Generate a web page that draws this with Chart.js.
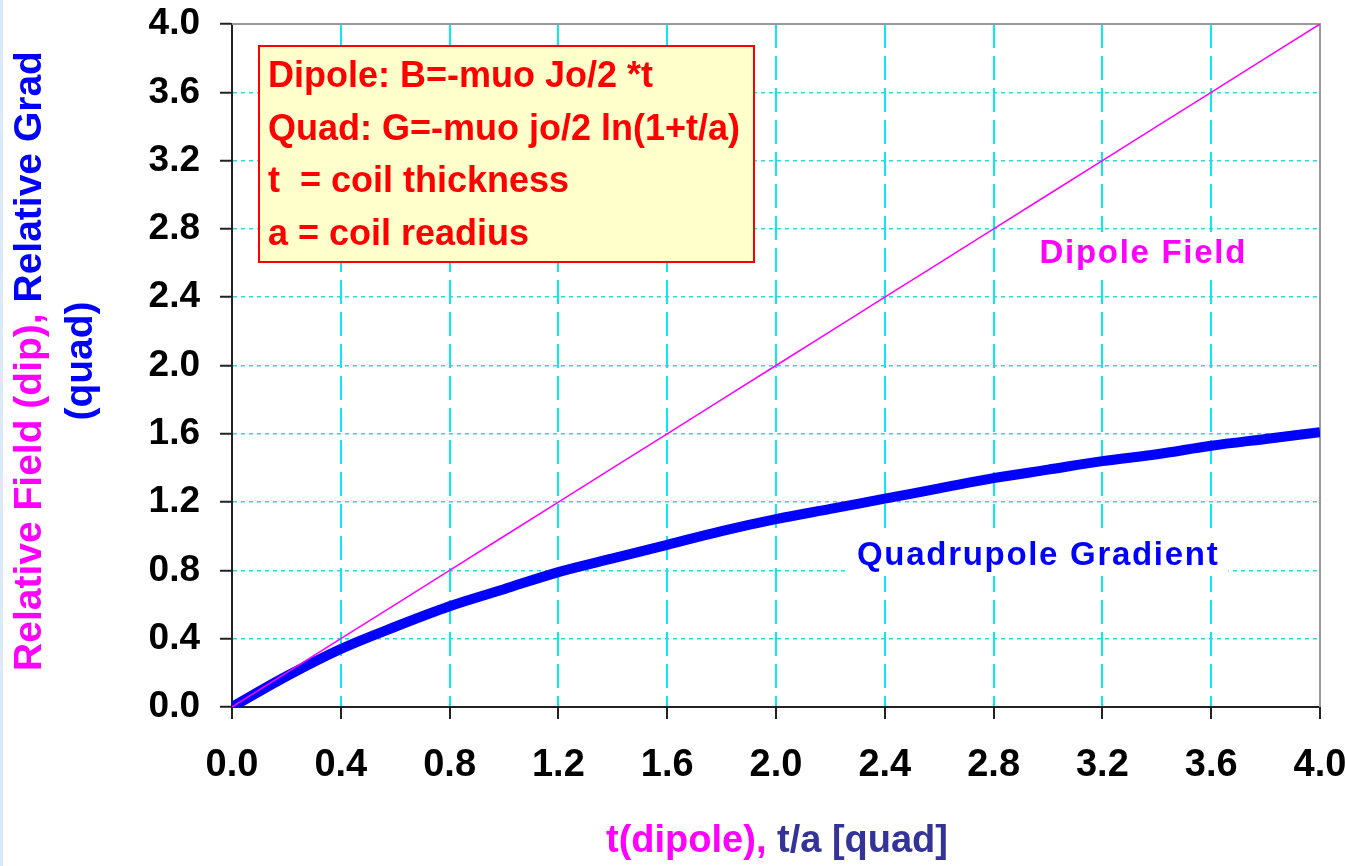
<!DOCTYPE html>
<html>
<head>
<meta charset="utf-8">
<script src="https://cdn.jsdelivr.net/npm/chart.js@4/dist/chart.umd.min.js"></script>
<style>
    html, body { margin: 0; padding: 0; background: #ffffff; }
    #wrap { position: relative; width: 1345px; height: 866px; }
</style>
</head>
<body>
<div id="wrap"><canvas id="fieldChart"></canvas></div>
<script>
// Values
const tValues = [0.0, 0.2, 0.4, 0.6, 0.8, 1.0, 1.2, 1.4, 1.6, 1.8, 2.0, 2.2, 2.4, 2.6, 2.8, 3.0, 3.2, 3.4, 3.6, 3.8, 4.0];
const dipoleField = [0.0, 0.2, 0.4, 0.6, 0.8, 1.0, 1.2, 1.4, 1.6, 1.8, 2.0, 2.2, 2.4, 2.6, 2.8, 3.0, 3.2, 3.4, 3.6, 3.8, 4.0];
const quadGradient = [0.0, 0.18, 0.34, 0.47, 0.59, 0.69, 0.79, 0.87, 0.95, 1.03, 1.10, 1.16, 1.22, 1.28, 1.34, 1.39, 1.44, 1.48, 1.53, 1.57, 1.61];
const xTicks = [0.0, 0.4, 0.8, 1.2, 1.6, 2.0, 2.4, 2.8, 3.2, 3.6, 4.0];
const yTicks = [0.0, 0.4, 0.8, 1.2, 1.6, 2.0, 2.4, 2.8, 3.2, 3.6, 4.0];
const boxLines = ['Dipole: B=-muo Jo/2 *t', 'Quad: G=-muo jo/2 ln(1+t/a)', 't  = coil thickness', 'a = coil readius'];

const FONT = '"Liberation Sans", Arial, sans-serif';
const MAGENTA = '#ff00ff';
const BLUE = '#0000ff';

function toPoints(xs, ys) {
    return xs.map((x, i) => ({ x: x, y: ys[i] }));
}

// keep the plot area where the reference has it (no extra room for label overhang)
function noOverhang(scale) {
    scale.paddingTop = 0;
    scale.paddingBottom = 0;
    scale.paddingLeft = 0;
    scale.paddingRight = 0;
}

// Extra drawing: frame, annotation box, curve labels, axis titles
const decorPlugin = {
    id: 'decor',
    beforeDatasetsDraw(chart) {
        const { ctx, chartArea: a } = chart;
        ctx.save();
        ctx.strokeStyle = '#999999';
        ctx.lineWidth = 2;
        ctx.beginPath();
        ctx.moveTo(a.left, a.top);
        ctx.lineTo(a.right, a.top);
        ctx.lineTo(a.right, a.bottom);
        ctx.stroke();
        ctx.restore();
    },
    afterDraw(chart) {
        const { ctx } = chart;
        ctx.save();

        // faint edge on the left of the picture
        ctx.fillStyle = '#dceaf8';
        ctx.fillRect(0, 0, 3, 866);

        // formula box
        ctx.fillStyle = '#ffffcc';
        ctx.fillRect(259, 46, 495, 216);
        ctx.strokeStyle = '#ff0000';
        ctx.lineWidth = 2;
        ctx.strokeRect(259, 46, 495, 216);
        ctx.fillStyle = '#ff0000';
        ctx.font = 'bold 36px ' + FONT;
        ctx.textBaseline = 'alphabetic';
        ctx.textAlign = 'left';
        boxLines.forEach((line, i) => {
            ctx.fillText(line, 268, 87 + i * 52.7);
        });

        // curve labels on white patches
        ctx.font = 'bold 33px ' + FONT;
        ctx.letterSpacing = '1.7px';
        let w = ctx.measureText('Dipole Field').width;
        ctx.fillStyle = '#ffffff';
        ctx.fillRect(1247 - w - 8, 232, w + 16, 40);
        ctx.fillStyle = MAGENTA;
        ctx.fillText('Dipole Field', 1247 - w, 263);
        w = ctx.measureText('Quadrupole Gradient').width;
        ctx.fillStyle = '#ffffff';
        ctx.fillRect(848, 534, w + 18, 42);
        ctx.fillStyle = BLUE;
        ctx.fillText('Quadrupole Gradient', 857, 565);
        ctx.letterSpacing = '0px';

        // x axis title, two colours
        ctx.font = 'bold 38px ' + FONT;
        const xa = 't(dipole), ';
        const xb = 't/a [quad]';
        const wa = ctx.measureText(xa).width;
        const wb = ctx.measureText(xb).width;
        let x0 = 777 - (wa + wb) / 2;
        ctx.fillStyle = MAGENTA;
        ctx.fillText(xa, x0, 852);
        ctx.fillStyle = '#333399';
        ctx.fillText(xb, x0 + wa, 852);

        // y axis title, rotated, two lines
        ctx.font = 'bold 39px ' + FONT;
        const ya = 'Relative Field (dip), ';
        const yb = 'Relative Grad';
        const yaW = ctx.measureText(ya).width;
        const ybW = ctx.measureText(yb).width;
        ctx.save();
        ctx.translate(41, 361);
        ctx.rotate(-Math.PI / 2);
        x0 = -(yaW + ybW) / 2;
        ctx.fillStyle = MAGENTA;
        ctx.fillText(ya, x0, 0);
        ctx.fillStyle = BLUE;
        ctx.fillText(yb, x0 + yaW, 0);
        ctx.restore();
        ctx.save();
        ctx.translate(92, 361);
        ctx.rotate(-Math.PI / 2);
        ctx.textAlign = 'center';
        ctx.fillStyle = BLUE;
        ctx.fillText('(quad)', 0, 0);
        ctx.restore();

        ctx.restore();
    }
};

document.addEventListener('DOMContentLoaded', function() {
    const ctx = document.getElementById('fieldChart').getContext('2d');

    new Chart(ctx, {
        type: 'line',
        data: {
            datasets: [{
                label: 'Dipole Field',
                data: toPoints(tValues, dipoleField),
                borderColor: MAGENTA,
                borderWidth: 1.5,
                pointRadius: 0,
                tension: 0
            }, {
                label: 'Quadrupole Gradient',
                data: toPoints(tValues, quadGradient),
                borderColor: BLUE,
                borderWidth: 10,
                pointRadius: 0,
                cubicInterpolationMode: 'monotone'
            }]
        },
        options: {
            responsive: true,
            maintainAspectRatio: false,
            animation: false,
            layout: { padding: { top: 24, right: 25, left: 0, bottom: 0 } },
            plugins: {
                legend: { display: false },
                tooltip: { enabled: false }
            },
            scales: {
                x: {
                    type: 'linear',
                    min: 0,
                    max: 4,
                    afterFit: function(scale) { scale.height = 159; noOverhang(scale); },
                    afterBuildTicks: function(scale) {
                        scale.ticks = xTicks.map(v => ({ value: v }));
                    },
                    grid: {
                        color: function(c) {
                            return (c.tick && (c.tick.value === 0 || c.tick.value === 4)) ? 'rgba(0,0,0,0)' : '#0ae8f4';
                        },
                        lineWidth: 2,
                        tickColor: '#222222',
                        tickLength: 12,
                        tickWidth: 2
                    },
                    border: { color: '#222222', width: 2, dash: [24, 8] },
                    ticks: {
                        color: '#000000',
                        padding: 24,
                        maxRotation: 0,
                        font: { family: FONT, size: 38, weight: 'bold' },
                        callback: function(v) { return Number(v).toFixed(1); }
                    }
                },
                y: {
                    type: 'linear',
                    min: 0,
                    max: 4,
                    afterFit: function(scale) { scale.width = 232; noOverhang(scale); },
                    afterBuildTicks: function(scale) {
                        scale.ticks = yTicks.map(v => ({ value: v }));
                    },
                    grid: {
                        color: function(c) {
                            return (c.tick && (c.tick.value === 0 || c.tick.value === 4)) ? 'rgba(0,0,0,0)' : '#33d6dc';
                        },
                        lineWidth: 1.5,
                        tickColor: '#222222',
                        tickLength: 12,
                        tickWidth: 2
                    },
                    border: { color: '#222222', width: 2, dash: [4, 4] },
                    ticks: {
                        color: '#000000',
                        padding: 20,
                        font: { family: FONT, size: 37, weight: 'bold' },
                        callback: function(v) { return Number(v).toFixed(1); }
                    }
                }
            }
        },
        plugins: [decorPlugin]
    });
});
</script>
</body>
</html>
